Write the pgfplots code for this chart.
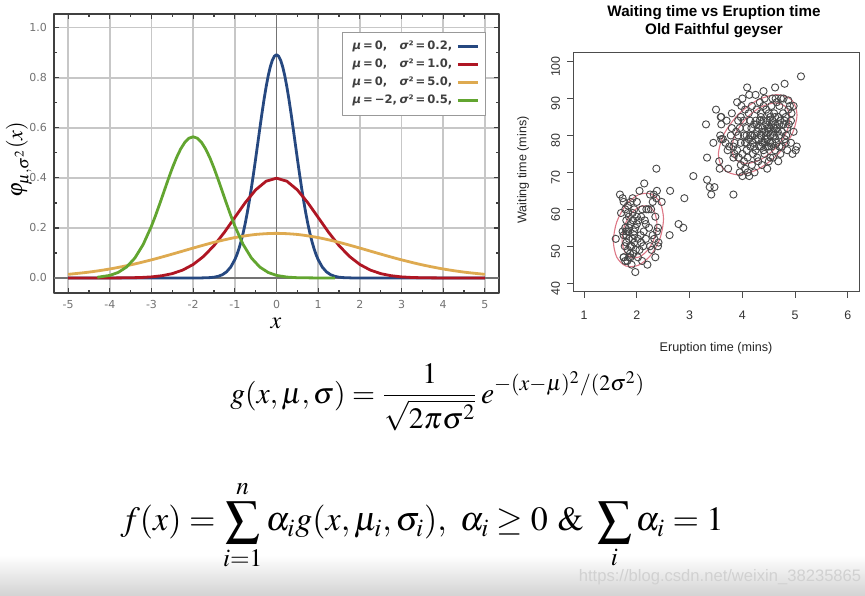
\documentclass[border=0pt]{standalone}
\usepackage{mathptmx}
\usepackage[no-math]{fontspec}
\setmainfont{Liberation Sans}
\newfontfamily\dejavu{DejaVu Sans}
\usepackage{pgfplots}
\pgfplotsset{compat=1.18}
\definecolor{cblue}{RGB}{38,72,128}
\definecolor{cred}{RGB}{175,22,35}
\definecolor{corange}{RGB}{222,170,80}
\definecolor{cgreen}{RGB}{98,165,48}
\definecolor{ellred}{RGB}{222,120,135}
\pgfplotstableread{
x y
1.80 54
1.95 51
1.83 54
1.75 47
2.17 52
1.75 62
1.60 52
1.80 51
1.75 47
1.97 55
2.02 52
1.87 48
1.83 59
1.73 54
1.88 47
2.10 60
2.25 50
1.85 58
1.92 59
2.00 56
2.05 49
1.78 46
1.82 46
1.90 45
2.20 45
1.97 43
2.35 47
2.40 50
2.41 51
2.30 53
2.23 55
2.15 57
2.08 58
1.95 60
2.22 60
2.27 60
2.18 60
1.88 62
1.78 60
1.70 59
1.83 61
2.00 62
1.93 57
1.85 55
1.80 53
1.87 50
1.98 49
2.07 53
2.13 54
1.92 52
1.85 52
1.78 55
2.03 57
2.12 50
2.28 49
2.33 52
2.38 54
2.40 55
2.35 58
2.30 62
2.37 63
2.25 64
1.68 64
1.73 63
1.92 63
2.05 65
2.14 67
2.37 71
2.47 62
2.38 65
2.32 64
2.62 53
2.79 56
2.88 55
2.90 63
2.63 65
1.83 49
1.93 48
2.02 47
2.10 46
1.77 50
1.95 53
2.00 58
1.88 56
1.80 57
2.17 56
1.75 53
1.85 47
1.95 54
2.08 51
1.90 50
3.07 69
3.33 74
3.33 68
3.38 66
3.47 66
3.41 64
3.83 64
3.45 78
3.31 83
3.60 83
3.59 85
3.50 87
3.56 73
3.57 71
3.73 71
3.60 79
4.53 85
4.70 88
3.60 85
4.35 85
3.92 84
4.20 78
4.70 83
4.80 84
4.25 79
4.53 74
4.08 76
3.85 78
4.43 79
4.30 73
4.47 77
4.03 80
3.83 74
4.83 80
4.78 90
4.35 80
4.50 81
4.60 80
4.15 77
4.00 75
3.95 70
4.10 70
4.13 69
4.05 71
4.18 72
4.42 75
4.50 73
4.65 78
4.72 75
4.85 76
4.92 78
4.97 81
4.88 83
4.93 86
4.97 88
4.87 89.5
4.65 89
4.73 90
4.42 90
4.33 89
4.27 87
4.40 88
4.55 88
4.50 86
4.57 84
4.62 83
4.65 82
4.45 83
4.38 82
4.28 81
4.22 83
4.17 82
4.08 82
4.02 84
3.97 85
3.92 80
3.88 81
3.80 82
3.78 80
3.75 77
3.83 77
3.90 76
3.97 78
4.05 78
4.12 79
4.18 80
4.25 76
4.32 77
4.38 78
4.47 79
4.53 80
4.58 81
4.63 79
4.70 80
4.75 81
4.78 83
4.82 85
4.77 86
4.68 85
4.60 86
4.52 82
4.48 84
4.43 81
4.33 84
4.27 83
4.12 86
4.05 87
3.98 88
4.18 88
4.25 91
4.40 92
4.62 93
4.80 94
5.11 96
4.09 93
4.13 91
4.63 90
4.57 90
4.87 87
4.90 88
4.82 78
4.75 77
4.68 73
4.58 74
4.40 76
4.28 74
4.20 75
4.10 74
4.03 73
3.93 74
3.85 75
3.72 76
3.68 78
3.63 79
3.58 80
3.70 84
3.80 86
3.90 89
4.00 90
4.15 84
4.35 86
4.45 87
4.55 77
4.62 76
4.70 77
4.80 79
4.85 82
4.92 84
5.01 76
5.03 77
4.95 75
4.47 71
4.37 72
4.23 70
4.00 69
3.97 72
4.08 78
4.30 79
4.42 78
4.50 77
4.57 78
4.45 80
4.37 81
4.48 82
4.55 83
4.40 84
4.30 82
4.23 80
4.15 80
3.95 82
4.08 80
4.60 82
4.67 81
4.52 78
4.35 77
4.22 77
4.62 85
4.72 84
4.25 84
}\faithful
\begin{document}
\begin{tikzpicture}
\path[use as bounding box, fill=white] (0,0) rectangle (432.5pt,297.5pt);
\shade[top color=white,bottom color=black!17] (0,0) rectangle (432.5pt,20pt);
% ---------------- left chart ----------------
\begin{axis}[at={(27pt,151pt)}, anchor=south west, scale only axis,
  width=222.5pt, height=139.5pt,
  xmin=-5.34, xmax=5.34, ymin=-0.06, ymax=1.055,
  xtick={-5,-4,-3,-2,-1,0,1,2,3,4,5}, ytick={0,0.2,0.4,0.6,0.8,1.0},
  minor x tick num=1, minor y tick num=1,
  tick align=inside, major tick length=2.5pt, minor tick length=1.5pt,
  grid=major, major grid style={black!22, line width=0.7pt},
  axis line style={black!75, line width=0.9pt},
  tick style={black!75, line width=0.6pt},
  ticklabel style={font=\dejavu\fontsize{5.5}{6}\selectfont, text=black!55},
  /pgf/number format/assume math mode=true,
  yticklabel style={/pgf/number format/.cd, fixed, fixed zerofill, precision=1},
  legend style={at={(axis cs:5.02,0.985)}, anchor=north east, draw=black!40,
    line width=0.5pt, fill=white, font=\dejavu\bfseries\fontsize{5.8}{6.5}\selectfont,
    text=black!75, row sep=-0.8pt, inner xsep=3pt, inner ysep=2.5pt, cells={anchor=west}},
  legend plot pos=right,
  legend image code/.code={\draw[#1] (0pt,0pt) -- (10pt,0pt);},
  line join=round
]
\draw[black!55, line width=0.9pt] (axis cs:0,-0.06) -- (axis cs:0,1.055);
\draw[black!55, line width=0.9pt] (axis cs:-5.34,0) -- (axis cs:5.34,0);
\addplot[cblue, line width=1.4pt] coordinates {
(-5,0) (-2.2,0) (-2,0.0000) (-1.8,0.0003) (-1.6,0.0015) (-1.5,0.0032) (-1.4,0.0066)
(-1.3,0.0130) (-1.2,0.0244) (-1.1,0.0433) (-1.0,0.0732) (-0.95,0.0934) (-0.9,0.1178)
(-0.85,0.1465) (-0.8,0.1801) (-0.75,0.2186) (-0.7,0.2621) (-0.65,0.3102) (-0.6,0.3627)
(-0.55,0.4188) (-0.5,0.4775) (-0.45,0.5377) (-0.4,0.5980) (-0.35,0.6568) (-0.3,0.7124)
(-0.25,0.7631) (-0.2,0.8072) (-0.15,0.8433) (-0.1,0.8701) (-0.05,0.8865) (0,0.8921)
(0.05,0.8865) (0.1,0.8701) (0.15,0.8433) (0.2,0.8072) (0.25,0.7631) (0.3,0.7124)
(0.35,0.6568) (0.4,0.5980) (0.45,0.5377) (0.5,0.4775) (0.55,0.4188) (0.6,0.3627)
(0.65,0.3102) (0.7,0.2621) (0.75,0.2186) (0.8,0.1801) (0.85,0.1465) (0.9,0.1178)
(0.95,0.0934) (1.0,0.0732) (1.1,0.0433) (1.2,0.0244) (1.3,0.0130) (1.4,0.0066)
(1.5,0.0032) (1.6,0.0015) (1.8,0.0003) (2,0.0000) (2.2,0) (5,0)};
\addlegendentry{\makebox[23.5pt][l]{\textit{μ}\,=\,0,}\textit{σ}²\,=\,0.2,}
\addplot[cred, line width=1.4pt] coordinates {
(-5,0) (-4,0.0001) (-3.5,0.0009) (-3.25,0.0020) (-3,0.0044) (-2.75,0.0091) (-2.5,0.0175)
(-2.25,0.0317) (-2,0.0540) (-1.75,0.0863) (-1.5,0.1295) (-1.25,0.1826) (-1,0.2420)
(-0.75,0.3011) (-0.5,0.3521) (-0.25,0.3867) (0,0.3989) (0.25,0.3867) (0.5,0.3521)
(0.75,0.3011) (1,0.2420) (1.25,0.1826) (1.5,0.1295) (1.75,0.0863) (2,0.0540)
(2.25,0.0317) (2.5,0.0175) (2.75,0.0091) (3,0.0044) (3.25,0.0020) (3.5,0.0009) (4,0.0001) (5,0)};
\addlegendentry{\makebox[23.5pt][l]{\textit{μ}\,=\,0,}\textit{σ}²\,=\,1.0,}
\addplot[corange, line width=1.4pt, smooth] coordinates {
(-5,0.0146) (-4.5,0.0235) (-4,0.0360) (-3.5,0.0524) (-3,0.0725) (-2.5,0.0955) (-2,0.1196)
(-1.5,0.1425) (-1,0.1614) (-0.5,0.1740) (0,0.1784) (0.5,0.1740) (1,0.1614) (1.5,0.1425)
(2,0.1196) (2.5,0.0955) (3,0.0725) (3.5,0.0524) (4,0.0360) (4.5,0.0235) (5,0.0146)};
\addlegendentry{\makebox[23.5pt][l]{\textit{μ}\,=\,0,}\textit{σ}²\,=\,5.0,}
\addplot[cgreen, line width=1.4pt] coordinates {
(-4.3,0.0028) (-4,0.0103) (-3.8,0.0221) (-3.6,0.0436) (-3.4,0.0795) (-3.2,0.1337)
(-3.0,0.2076) (-2.9,0.2510) (-2.8,0.2975) (-2.7,0.3456) (-2.6,0.3936) (-2.5,0.4394)
(-2.4,0.4808) (-2.3,0.5156) (-2.2,0.5421) (-2.1,0.5586) (-2,0.5642) (-1.9,0.5586)
(-1.8,0.5421) (-1.7,0.5156) (-1.6,0.4808) (-1.5,0.4394) (-1.4,0.3936) (-1.3,0.3456)
(-1.2,0.2975) (-1.1,0.2510) (-1.0,0.2076) (-0.8,0.1337) (-0.6,0.0795) (-0.4,0.0436)
(-0.2,0.0221) (0,0.0103) (0.25,0.0036) (0.5,0.0011) (1.0,0.0001) (1.4,0)};
\addlegendentry{\makebox[23.5pt][l]{\textit{μ}\,=\,−2,}\textit{σ}²\,=\,0.5,}
\end{axis}
\node[rotate=90, font=\fontsize{11}{12}\selectfont] at (9.5pt,217.5pt) {$\varphi_{\mu,\sigma^2}(x)$};
\node[font=\fontsize{12}{13}\selectfont] at (138pt,136pt) {$x$};
% ---------------- right chart ----------------
\begin{axis}[at={(286.5pt,151.5pt)}, anchor=south west, scale only axis,
  width=143pt, height=120pt,
  xmin=0.79, xmax=6.21, ymin=37.6, ymax=102.6,
  xtick={1,2,3,4,5,6}, ytick={40,50,60,70,80,90,100},
  xtick pos=bottom, ytick pos=left, tick align=outside, major tick length=3pt,
  axis line style={black!70, line width=0.5pt},
  tick style={black!70, line width=0.5pt},
  ticklabel style={font=\fontsize{6.2}{7}\selectfont, text=black!80},
  xticklabel style={yshift=-3pt},
  yticklabel style={rotate=90, anchor=south, xshift=-2.5pt},
  /pgf/number format/assume math mode=true
]
\addplot[ellred, line width=0.55pt, smooth cycle] coordinates {
(5.035,85.63) (4.935,89.60) (4.663,91.05) (4.29,89.60) (3.918,85.63) (3.645,80.2)
(3.545,74.78) (3.645,70.80) (3.918,69.35) (4.29,70.80) (4.663,74.78) (4.935,80.2)};
\addplot[ellred, line width=0.55pt, smooth cycle] coordinates {
(4.90,84.7) (4.826,87.7) (4.625,88.8) (4.35,87.7) (4.075,84.7) (3.874,80.6)
(3.80,76.5) (3.874,73.5) (4.075,72.4) (4.35,73.5) (4.625,76.5) (4.826,80.6)};
\addplot[ellred, line width=0.55pt, smooth cycle] coordinates {
(2.505,57.4) (2.441,61.77) (2.268,64.16) (2.03,63.94) (1.793,61.16) (1.619,56.57)
(1.555,51.4) (1.619,47.03) (1.793,44.64) (2.03,44.86) (2.268,47.64) (2.441,52.23)};
\addplot[ellred, line width=0.55pt, smooth cycle] coordinates {
(2.38,56.03) (2.336,59.13) (2.215,60.83) (2.05,60.67) (1.885,58.70) (1.764,55.44)
(1.72,51.77) (1.764,48.67) (1.885,46.97) (2.05,47.13) (2.215,49.10) (2.336,52.36)};
\addplot[only marks, mark=o, mark size=1.8pt, mark options={draw=black!72, line width=0.45pt}] table {\faithful};
\end{axis}
\node[align=center, font=\bfseries\fontsize{7.6}{9}\selectfont] at (357pt,286.5pt) {Waiting time vs Eruption time\\Old Faithful geyser};
\node[font=\fontsize{6.3}{7}\selectfont, text=black!85] at (358pt,123.5pt) {Eruption time (mins)};
\node[rotate=90, font=\fontsize{6.3}{7}\selectfont, text=black!85] at (261.5pt,212.5pt) {Waiting time (mins)};
% ---------------- formulas ----------------
\node[anchor=west, inner sep=0pt] at (115pt,99pt) {\fontsize{14.8}{17}\selectfont $\displaystyle g(x,\mu,\sigma)=\frac{1}{\sqrt{2\pi\sigma^2}}\,e^{-(x-\mu)^2/(2\sigma^2)}$};
\node[anchor=west, inner sep=0pt] at (60pt,35pt) {\fontsize{17}{20}\selectfont $\displaystyle f(x)=\sum_{i=1}^{n}\alpha_i g(x,\mu_i,\sigma_i),\ \alpha_i\ge0\ \&\ \sum_i\alpha_i=1$};
\node[font=\fontsize{8.3}{9}\selectfont, text=black!18] at (360pt,9pt) {https://blog.csdn.net/weixin\_38235865};
\end{tikzpicture}
\end{document}
